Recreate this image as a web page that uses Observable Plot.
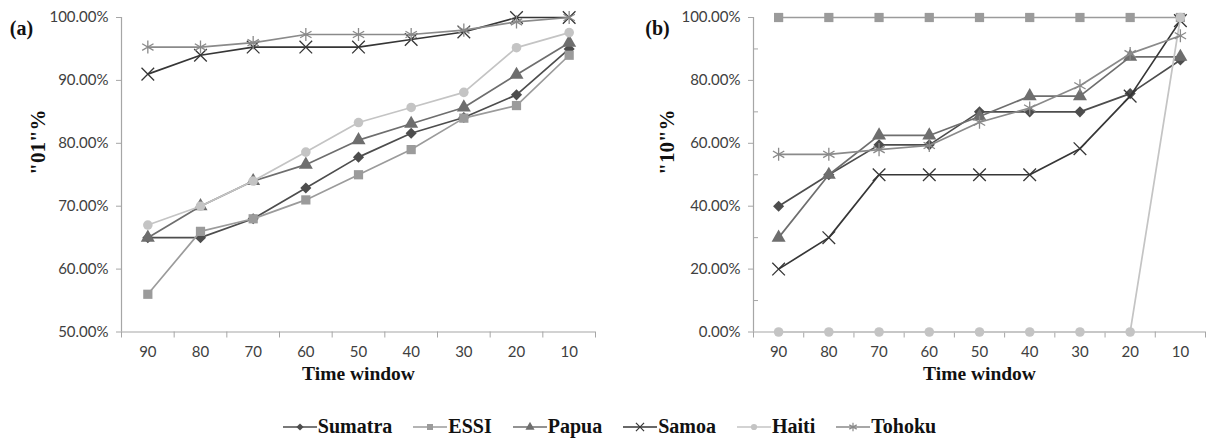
<!DOCTYPE html>
<html>
<head>
<meta charset="utf-8">
<script src="https://cdn.jsdelivr.net/npm/d3@7"></script>
<script src="https://cdn.jsdelivr.net/npm/@observablehq/plot@0.6"></script>
<style>
  html, body { margin: 0; padding: 0; background: #fff; }
  #wrap { position: relative; width: 1218px; height: 439px; background: #fff; overflow: hidden; }
  #panelA { position: absolute; left: 0; top: 0; }
  #panelB { position: absolute; left: 609px; top: 0; }
  #legend { position: absolute; left: 0; top: 415px; width: 1218px; display: flex; justify-content: center; }
  .item { display: flex; align-items: center; margin: 0 10px; }
</style>
</head>
<body>
<div id="wrap">
  <div id="panelA"></div>
  <div id="panelB"></div>
  <div id="legend"></div>
</div>
<script>
// ---------- data ----------
const timeWindows = ["90", "80", "70", "60", "50", "40", "30", "20", "10"];
const seriesNames = ["Sumatra", "ESSI", "Papua", "Samoa", "Haiti", "Tohoku"];

// panel (a): "01"% values
const sumatraA = [65, 65, 68, 72.9, 77.8, 81.6, 84.1, 87.7, 95];
const essiA    = [56, 66, 68, 71, 75, 79, 84, 86, 94];
const papuaA   = [65, 70, 74, 76.6, 80.5, 83.1, 85.7, 90.9, 96];
const samoaA   = [91, 94, 95.3, 95.3, 95.3, 96.5, 97.7, 100, 100];
const haitiA   = [67, 70, 74, 78.6, 83.3, 85.7, 88.1, 95.2, 97.6];
const tohokuA  = [95.3, 95.3, 96, 97.3, 97.3, 97.3, 98, 99.3, 100];

// panel (b): "10"% values
const sumatraB = [40, 50, 59.5, 59.5, 70, 70, 70, 75.8, 86.5];
const essiB    = [100, 100, 100, 100, 100, 100, 100, 100, 100];
const papuaB   = [30, 50, 62.5, 62.5, 68.5, 75, 75, 87.5, 87.5];
const samoaB   = [20, 30, 50, 50, 50, 50, 58.3, 75, 99];
const haitiB   = [0, 0, 0, 0, 0, 0, 0, 0, 100];
const tohokuB  = [56.5, 56.5, 58, 59.3, 66.7, 71.2, 78.3, 88.5, 94.2];

const yTicksA = [50, 60, 70, 80, 90, 100];
const yTicksB = [0, 20, 40, 60, 80, 100];
const yMinorB = [10, 30, 50, 70, 90];

// ---------- styles ----------
const styles = {
  Sumatra: {color: "#4d4d4d", symbol: "diamond2", filled: true, r: 5.0},
  ESSI:    {color: "#9b9b9b", symbol: "square",   filled: true, r: 5.2},
  Papua:   {color: "#6e6e6e", symbol: "triangle", filled: true, r: 5.2},
  Samoa:   {color: "#363636", symbol: "times",    filled: false, r: 5.8},
  Haiti:   {color: "#c4c4c4", symbol: "circle",   filled: true, r: 4.8},
  Tohoku:  {color: "#8a8a8a", symbol: "asterisk", filled: false, r: 6.2}
};
const axisGray = "#a6a6a6";
const labelColor = "#404040";
const tickFont = "Lato, 'Open Sans', sans-serif";
const titleFont = "'Liberation Serif', 'Times New Roman', serif";

function toRows(values) { return values.map((v, i) => ({i, v})); }

function seriesMarks(name, values) {
  const s = styles[name];
  const rows = toRows(values);
  const dotOpts = {x: "i", y: "v", symbol: () => s.symbol, r: s.r};
  if (s.filled) { dotOpts.fill = s.color; dotOpts.stroke = "none"; }
  else { dotOpts.fill = "none"; dotOpts.stroke = s.color; dotOpts.strokeWidth = 1.3; }
  return [
    Plot.line(rows, {x: "i", y: "v", stroke: s.color, strokeWidth: 1.7}),
    Plot.dot(rows, dotOpts)
  ];
}

function panel({values, yDomain, yTicks, yMinor, yFormat, marginLeft, marginRight, panelLabel, labelDx, yTitle, yTitleDx}) {
  const bounds = d3.range(-0.5, timeWindows.length, 1);
  return Plot.plot({
    width: 609,
    height: 400,
    marginLeft,
    marginRight,
    marginTop: 17,
    marginBottom: 68.5,
    x: {type: "linear", domain: [-0.5, timeWindows.length - 0.5]},
    y: {domain: yDomain},
    symbol: {type: "identity"},
    style: {fontFamily: tickFont, background: "#fff", overflow: "visible"},
    marks: [
      Plot.ruleX([-0.5], {stroke: axisGray, strokeWidth: 1.2}),
      Plot.ruleY([yDomain[0]], {stroke: axisGray, strokeWidth: 1.2}),
      Plot.axisY({ticks: yTicks, tickSize: 5, fill: "none", stroke: axisGray, label: null}),
      Plot.axisY({ticks: yTicks, tickSize: 0, tickPadding: 13, tickFormat: yFormat, fill: labelColor, stroke: "none", fontSize: 15, label: null}),
      ...(yMinor ? [Plot.axisY({ticks: yMinor, tickSize: -5, fill: "none", stroke: axisGray, label: null})] : []),
      Plot.axisX({ticks: bounds, tickSize: 6, fill: "none", stroke: axisGray, label: null}),
      Plot.axisX({ticks: d3.range(timeWindows.length), tickSize: 0, tickPadding: 14, tickFormat: i => timeWindows[i], fill: labelColor, stroke: "none", fontSize: 15, label: null}),
      ...seriesNames.flatMap((name, k) => seriesMarks(name, values[k])),
      Plot.text([panelLabel], {text: d => d, frameAnchor: "top-left", dx: labelDx, dy: 3, fontFamily: titleFont, fontWeight: "bold", fontSize: 20, fill: "#111", textAnchor: "middle"}),
      Plot.text([yTitle], {text: d => d, frameAnchor: "left", dx: yTitleDx, rotate: -90, fontFamily: titleFont, fontWeight: "bold", fontSize: 21, fill: "#111"}),
      Plot.text(["Time window"], {text: d => d, frameAnchor: "bottom", dy: 48, fontFamily: titleFont, fontWeight: "bold", fontSize: 19.5, fill: "#111"})
    ]
  });
}

document.getElementById("panelA").append(panel({
  values: [sumatraA, essiA, papuaA, samoaA, haitiA, tohokuA],
  yDomain: [50, 100], yTicks: yTicksA, yMinor: null,
  yFormat: d => d.toFixed(2) + "%",
  marginLeft: 121, marginRight: 14,
  panelLabel: "(a)", labelDx: -100,
  yTitle: '"01"%', yTitleDx: -83
}));

document.getElementById("panelB").append(panel({
  values: [sumatraB, essiB, papuaB, samoaB, haitiB, tohokuB],
  yDomain: [0, 100], yTicks: yTicksB, yMinor: yMinorB,
  yFormat: d => d.toFixed(2) + "%",
  marginLeft: 144, marginRight: 13,
  panelLabel: "(b)", labelDx: -96,
  yTitle: '"10"%', yTitleDx: -86
}));

// ---------- legend ----------
const legend = d3.select("#legend");
const symMap = {diamond2: d3.symbolDiamond2, square: d3.symbolSquare, triangle: d3.symbolTriangle,
                times: d3.symbolTimes, circle: d3.symbolCircle, asterisk: d3.symbolAsterisk};
seriesNames.forEach(name => {
  const s = styles[name];
  const item = legend.append("div").attr("class", "item");
  const svg = item.append("svg").attr("width", 36).attr("height", 20);
  svg.append("line").attr("x1", 1).attr("x2", 35).attr("y1", 10).attr("y2", 10)
     .attr("stroke", s.color).attr("stroke-width", 1.7);
  svg.append("path").attr("transform", "translate(18,10)")
     .attr("d", d3.symbol(symMap[s.symbol], Math.PI * (s.r * 0.65) ** 2)())
     .attr("fill", s.filled ? s.color : "none")
     .attr("stroke", s.filled ? "none" : s.color).attr("stroke-width", 1.2);
  item.append("span")
      .attr("style", "font-family:'Liberation Serif','Times New Roman',serif;font-weight:bold;font-size:20px;color:#111")
      .text(name);
});
</script>
</body>
</html>
